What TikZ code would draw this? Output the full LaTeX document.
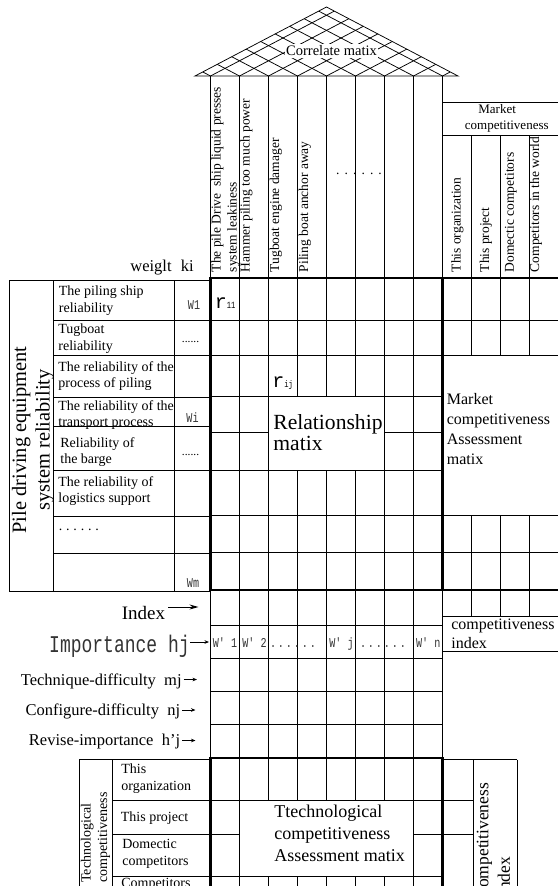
\documentclass[tikz,border=0pt]{standalone}
\usepackage{fontspec}
\setmainfont{Liberation Serif}
\newfontfamily\simfont[FakeStretch=0.75]{Liberation Mono}
\newfontfamily\rmono{Liberation Mono}
\usetikzlibrary{arrows.meta}
\newcommand\fs[2]{\fontsize{#1}{#2}\selectfont}
\newcommand\spdots[1]{.\hskip#1.\hskip#1.\hskip#1.\hskip#1.\hskip#1.}
\definecolor{simgray}{gray}{0.2}
\begin{document}
\begin{tikzpicture}[x=1pt,y=-1pt,line width=0.75pt,
  heavy/.style={line width=2.4pt},
  every node/.style={inner sep=0pt},
  rothead/.style={rotate=90,anchor=north west,align=left,font=\fs{13.5}{16}},
  rowtxt/.style={anchor=west,align=left,font=\fs{14}{16.8}},
  simtxt/.style={font=\simfont\fs{13.5}{14},text=simgray,anchor=base},
  lab/.style={anchor=base east,font=\fs{16.5}{18}},
  arr/.style={line width=0.8pt,-{Stealth[length=4.5pt,width=3.6pt]}}]
\useasboundingbox (0,0) rectangle (557,886);

% ---------- roof (correlation matrix)
\begin{scope}
  \clip (195,76) -- (326.5,7) -- (458,76) -- cycle;
  \foreach \k in {0,...,8} {
    \draw (210.5+29*\k,76) -- ++(220,-115.3);
    \draw (210.5+29*\k,76) -- ++(-220,-115.3);
  }
\end{scope}
\draw (195,76) -- (326.5,7) -- (458,76) -- cycle;
\node[fill=white,inner sep=1.5pt,font=\fs{14.5}{16}] (corr) at (331.5,51) {Correlate matix};

% ---------- header columns
\foreach \k in {0,...,8} \draw (210.5+29*\k,76) -- (210.5+29*\k,278);
\draw (442.5,102) -- (562,102);
\draw (442.5,135) -- (562,135);
\foreach \x in {471.5,500.5,529.5,558.5} \draw (\x,135) -- (\x,355);

% ---------- relationship matrix grid
\foreach \y in {320,355,396,470,515,552} \draw (210.5,\y) -- (442.5,\y);
\draw (210.5,432) -- (268.5,432);
\draw (384.5,432) -- (442.5,432);
\foreach \k in {1,2,6,7} \draw (210.5+29*\k,278) -- (210.5+29*\k,590);
\foreach \k in {3,4,5} {
  \draw (210.5+29*\k,278) -- (210.5+29*\k,396);
  \draw (210.5+29*\k,470) -- (210.5+29*\k,590);
}
% market grid
\foreach \y in {320,355,515,552} \draw (442.5,\y) -- (562,\y);
\foreach \x in {471.5,500.5,529.5,558.5} \draw (\x,515) -- (\x,616);
\draw[heavy] (210.5,278) rectangle (442.5,590);
\draw[heavy] (442.5,278) -- (562,278);
\draw[heavy] (442.5,590) -- (562,590);

% ---------- left box
\draw (9.5,280) rectangle (210.5,591);
\draw (53.5,280) -- (53.5,591);
\draw (174,280) -- (174,591);
\foreach \y in {320,355,397,426,470,516,553} \draw (53.5,\y) -- (210.5,\y);

% ---------- lower rows
\foreach \k in {0,...,8} \draw (210.5+29*\k,590) -- (210.5+29*\k,758);
\foreach \y in {625,658,691,724} \draw (210.5,\y) -- (442.5,\y);
\draw (442.5,616) -- (562,616);
\draw (442.5,651) -- (562,651);

% ---------- bottom section
\foreach \k in {1,7} \draw (210.5+29*\k,758) -- (210.5+29*\k,900);
\foreach \k in {2,...,6} {
  \draw (210.5+29*\k,758) -- (210.5+29*\k,800);
  \draw (210.5+29*\k,876) -- (210.5+29*\k,900);
}
\draw (210.5,800) -- (442.5,800);
\draw (210.5,876) -- (442.5,876);
\draw (210.5,834) -- (239.5,834);
\draw (413.5,834) -- (442.5,834);
\draw[heavy] (210.5,900) -- (210.5,758) -- (442.5,758) -- (442.5,900);
\draw (442.5,759.5) -- (517,759.5);
\draw (473,759.5) -- (473,900);
\draw (517,759.5) -- (517,900);
\draw (442.5,800) -- (473,800);
\draw (442.5,834) -- (473,834);
\draw (210.5,759.5) -- (79,759.5) -- (79,900);
\draw (112.5,759.5) -- (112.5,900);
\foreach \y in {800,834,876} \draw (112.5,\y) -- (210.5,\y);

% ---------- header texts
\node[rothead] (h1) at (211,272.5) {The pile Drive\ \ ship liquid presses\\system leakiness};
\node[rothead] (h2) at (239.8,272.5) {Hammer piling too much power};
\node[rothead] (h3) at (269.5,272.5) {Tugboat engine damager};
\node[rothead] (h4) at (298.5,272.5) {Piling boat anchor away};
\node[font=\fs{13.5}{16}] (hdots) at (359,174) {\spdots{5.1pt}};
\node[rothead] (mh1) at (451,272.5) {This organization};
\node[rothead] (mh2) at (479.5,272.5) {This project};
\node[rothead] (mh3) at (504.5,272.5) {Domectic competitors};
\node[rothead] (mh4) at (529.5,272.5) {Competitors in the world};
\node[anchor=north west,align=left,font=\fs{13}{16.5}] (mkt) at (464.5,104) {\hspace*{13.5pt}Market\\competitiveness};

% ---------- left box texts
\node[rotate=90,align=center,font=\fs{20.4}{23.5}] (pile) at (33,440) {Pile driving equipment\\system reliability};
\node[anchor=base east,font=\fs{16.5}{18}] (weight) at (172,271.5) {weiglt};
\node[anchor=base west,font=\fs{16.5}{18}] (ki) at (180.5,271.5) {ki};
\node[rowtxt] (req1) at (58.5,301) {The piling ship\\reliability};
\node[rowtxt] (req2) at (58,338.5) {Tugboat\\reliability};
\node[rowtxt] (req3) at (58,376) {The reliability of the\\process of piling};
\node[rowtxt] (req4) at (58,415) {The reliability of the\\transport process};
\node[rowtxt] (req5) at (60,452) {Reliability of\\the barge};
\node[rowtxt] (req6) at (58,491) {The reliability of\\logistics support};
\node[rowtxt] (req7) at (58.5,530) {\spdots{3.8pt}};
\node[simtxt,anchor=center] (kw1) at (194,305) {W1};
\node[font=\fs{11.5}{12}] (kd1) at (190.5,341.5) {......};
\node[simtxt,anchor=center] (kwi) at (192.5,418) {Wi};
\node[font=\fs{11.5}{12}] (kd2) at (190.5,455) {......};
\node[simtxt,anchor=center] (kwm) at (193,583) {Wm};

% ---------- matrix texts
\node[anchor=base west] (r11) at (214.5,308) {{\rmono\fs{20}{20}r}{\simfont\fs{9.5}{10}11}};
\node[anchor=base west] (rij) at (272,387.5) {{\rmono\fs{20}{20}r}{\simfont\fs{9.5}{10}ij}};
\node[anchor=west,align=left,font=\fs{21.6}{21}] (relm) at (273,433) {Relationship\\matix};
\node[anchor=west,align=left,font=\fs{16}{20}] (mam) at (446.5,429) {Market\\competitiveness\\Assessment\\matix};

% ---------- lower labels
\node[anchor=base east,font=\fs{19}{20}] (idx) at (165.5,619.5) {Index};
\coordinate (idxstart) at ([xshift=2.5pt]idx.east);
\coordinate (idxend) at (198.5,607);
\draw[line width=1pt,-{Stealth[length=9pt,width=5pt]}] (idxstart |- idxend) -- (idxend);

\node[anchor=base east,font=\simfont\fs{24}{26},text=simgray] (imp) at (190,652) {Importance hj};
\coordinate (impend) at (209,642);
\draw[arr] (imp.east |- impend) -- (impend);
\node[lab] (tech) at (182,685) {Technique-difficulty\ \ mj};
\coordinate (techend) at (197,679.5);
\draw[arr] ([xshift=1.5pt]tech.east |- techend) -- (techend);
\node[lab] (conf) at (180.5,715) {Configure-difficulty\ \ nj};
\coordinate (confend) at (195.5,710);
\draw[arr] ([xshift=1.5pt]conf.east |- confend) -- (confend);
\node[lab] (rev) at (180.5,745.5) {Revise-importance\ \ h'j};
\coordinate (revend) at (195.5,740.5);
\draw[arr] ([xshift=1.5pt]rev.east |- revend) -- (revend);

\node[simtxt] (w1) at (225,647) {W' 1};
\node[simtxt] (w2) at (254.5,647) {W' 2};
\node[simtxt] (wd1) at (293,647) {\spdots{1.9pt}};
\node[simtxt] (wj) at (341.5,647) {W' j};
\node[simtxt] (wd2) at (383,647) {\spdots{1.9pt}};
\node[simtxt] (wn) at (428.3,647) {W' n};
\node[anchor=west,align=left,font=\fs{16}{19}] (cidx) at (451,634) {competitiveness\\index};

% ---------- bottom texts
\node[rotate=90,anchor=north west,align=left,font=\fs{14}{16.5}] (tcl) at (80.5,883) {Technological\\competitiveness};
\node[rowtxt] (to) at (121,778.5) {This\\organization};
\node[rowtxt] (tp) at (120.5,818.5) {This project};
\node[rowtxt] (dc) at (122,853.5) {Domectic\\competitors};
\node[anchor=north west,font=\fs{14}{17}] (cw) at (121,877.5) {Competitors};
\node[anchor=west,align=left,font=\fs{18}{22}] (tcm) at (274,833) {Ttechnological\\competitiveness\\Assessment matix};
\node[rotate=90,anchor=north west,align=left,font=\fs{17.5}{21.5}] (cil) at (476.5,896) {competitiveness\\index};
\end{tikzpicture}
\end{document}
